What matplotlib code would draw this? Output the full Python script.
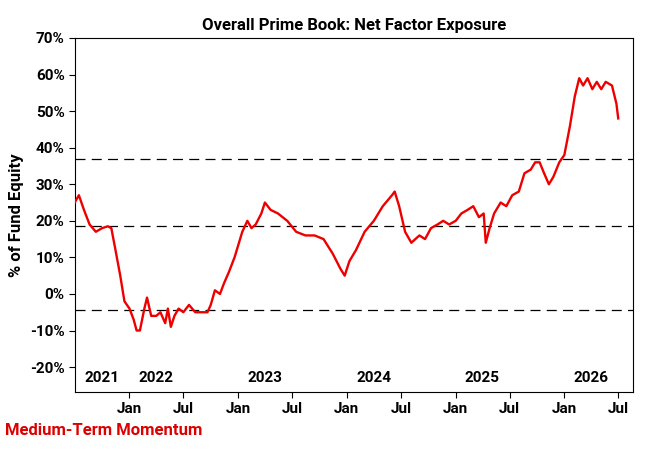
import numpy as np
import pandas as pd
import matplotlib
matplotlib.use('Agg')
import matplotlib.pyplot as plt
import matplotlib.dates as mdates

plt.rcParams['font.family'] = ['Roboto', 'DejaVu Sans']

# approximate readings of the exposure line
dates = ['2021-07-01','2021-07-15','2021-08-01','2021-08-20','2021-09-10','2021-10-01','2021-10-20',
         '2021-11-01','2021-11-15','2021-12-01','2021-12-15','2022-01-01','2022-01-15','2022-01-25',
         '2022-02-05','2022-02-20','2022-03-01','2022-03-15','2022-04-01','2022-04-15','2022-05-01',
         '2022-05-10','2022-05-20','2022-06-01','2022-06-15','2022-07-01','2022-07-20','2022-08-10',
         '2022-09-01','2022-09-20','2022-10-01','2022-10-15','2022-11-01','2022-11-15','2022-12-01',
         '2022-12-20','2023-01-15','2023-02-01','2023-02-15','2023-03-01','2023-03-20','2023-04-01',
         '2023-04-20','2023-05-15','2023-06-15','2023-07-15','2023-08-15','2023-09-15','2023-10-15',
         '2023-11-15','2023-12-10','2023-12-25','2024-01-10','2024-02-01','2024-03-01','2024-04-01',
         '2024-05-01','2024-06-01','2024-06-10','2024-06-25','2024-07-15','2024-08-05','2024-09-01',
         '2024-09-20','2024-10-10','2024-11-01','2024-11-20','2024-12-10','2025-01-01','2025-01-20',
         '2025-02-10','2025-03-01','2025-03-20','2025-04-05','2025-04-12','2025-04-25','2025-05-10',
         '2025-06-01','2025-06-20','2025-07-10','2025-08-01','2025-08-20','2025-09-10','2025-09-25',
         '2025-10-10','2025-10-25','2025-11-10','2025-11-25','2025-12-15','2026-01-01','2026-01-20',
         '2026-02-05','2026-02-20','2026-03-05','2026-03-20','2026-04-05','2026-04-20','2026-05-05',
         '2026-05-20','2026-06-10','2026-06-25','2026-07-01']
values = [25, 27, 23, 19, 17, 18, 18.5,
          18, 12, 5, -2, -4, -7, -10,
          -10, -4, -1, -6, -6, -5, -8,
          -4, -9, -6, -4, -5, -3, -5,
          -5, -5, -3, 1, 0, 3, 6,
          10, 17, 20, 18, 19, 22, 25,
          23, 22, 20, 17, 16, 16, 15,
          11, 7, 5, 9, 12, 17, 20,
          24, 27, 28, 24, 17, 14, 16,
          15, 18, 19, 20, 19, 20, 22,
          23, 24, 21, 22, 14, 18, 22,
          25, 24, 27, 28, 33, 34, 36,
          36, 33, 30, 32, 36, 38, 46,
          54, 59, 57, 59, 56, 58, 56,
          58, 57, 52, 48]
ref_levels = [37, 18.5, -4.5]
year_labels = ['2021', '2022', '2023', '2024', '2025', '2026']

dates = pd.to_datetime(dates)

fig = plt.figure(figsize=(6.5, 4.5), dpi=100)
ax = fig.add_axes([0.1154, 0.129, 0.8586, 0.7866])

for lv in ref_levels:
    ax.axhline(lv, color='black', lw=0.9, ls=(0, (8, 5)), zorder=1)
ax.plot(dates, values, color='#ee0000', lw=1.7, zorder=3)

ax.set_xlim(pd.Timestamp('2021-07-02'), pd.Timestamp('2026-08-20'))
ax.set_ylim(-26.8, 70)
ax.set_yticks(np.arange(-20, 71, 10))
ax.set_yticklabels([f'{v}%' for v in range(-20, 71, 10)], fontsize=11, fontweight='bold')
ax.set_xticks(pd.date_range('2022-01-01', '2026-07-01', freq='6MS'))
ax.xaxis.set_major_formatter(mdates.DateFormatter('%b'))
for t in ax.get_xticklabels():
    t.set_fontsize(11)
    t.set_fontweight('bold')
ax.tick_params(direction='out', length=4)
ax.set_ylabel('% of Fund Equity', fontsize=12, fontweight='bold')
ax.set_title('Overall Prime Book: Net Factor Exposure', fontsize=12, fontweight='bold', pad=6)

year_pos = ['2021-10-01', '2022-04-01', '2023-04-01', '2024-04-01', '2025-04-01', '2026-04-01']
for lab, d in zip(year_labels, year_pos):
    ax.text(pd.Timestamp(d), -23, lab, ha='center', va='center', fontsize=11, fontweight='bold')

fig.text(0.008, 0.033, 'Medium-Term Momentum', color='#dd0000', fontsize=12, fontweight='bold')

fig.savefig('out.png', dpi=100)
